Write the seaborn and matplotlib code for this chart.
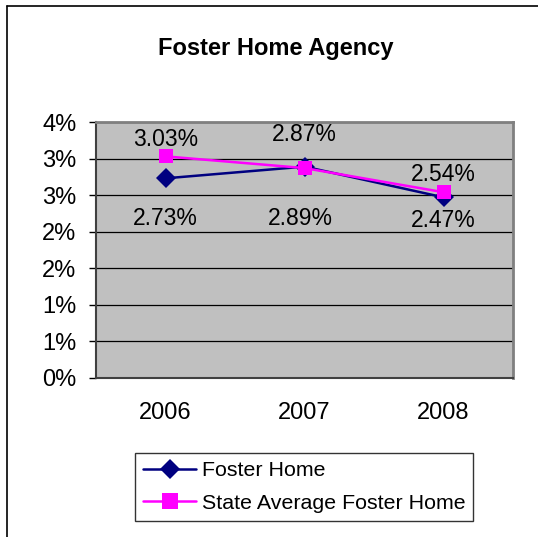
import numpy as np
import pandas as pd
import matplotlib
matplotlib.use("Agg")
import matplotlib.pyplot as plt
from matplotlib.lines import Line2D
from matplotlib.ticker import FuncFormatter, FixedLocator
import seaborn as sns

# data
YEARS = ["2006", "2007", "2008"]
FOSTER_HOME = [2.73, 2.89, 2.47]
STATE_AVG = [3.03, 2.87, 2.54]
SERIES = ["Foster Home", "State Average Foster Home"]
Y_TICKS = [0, 0.5, 1.0, 1.5, 2.0, 2.5, 3.0, 3.5]

df = pd.DataFrame({
    "year": YEARS * 2,
    "value": FOSTER_HOME + STATE_AVG,
    "series": [SERIES[0]] * 3 + [SERIES[1]] * 3,
})

sns.set_style("white")
plt.rcParams["font.family"] = ["Liberation Sans", "DejaVu Sans"]
plt.rcParams["text.color"] = "black"
plt.rcParams["xtick.color"] = "black"
plt.rcParams["ytick.color"] = "black"

fig = plt.figure(figsize=(5.38, 5.37), dpi=100)
ax = fig.add_axes([96 / 538, 1 - 378 / 537, (513 - 96) / 538, (378 - 122) / 537])
ax.set_facecolor("#C0C0C0")

palette = {SERIES[0]: "#000080", SERIES[1]: "#FF00FF"}
markers = {SERIES[0]: "D", SERIES[1]: "s"}
sns.lineplot(data=df, x="year", y="value", hue="series", style="series",
             palette=palette, markers=markers, dashes=False, markersize=10,
             markeredgewidth=0, linewidth=1.8, ax=ax, sort=False)

ax.set_xlim(-0.5, 2.5)
ax.set_ylim(0, 3.5)
ax.yaxis.set_major_locator(FixedLocator(Y_TICKS))
ax.yaxis.set_major_formatter(FuncFormatter(lambda v, p: f"{int(np.floor(v + 0.5 + 1e-9))}%"))
ax.grid(axis="y", color="#000000", linewidth=0.9)
ax.set_axisbelow(True)

ax.set_xticks([0, 1, 2])
ax.set_xticks([-0.5, 0.5, 1.5, 2.5], minor=True)
ax.tick_params(axis="x", which="major", length=0, pad=17, labelsize=17)
ax.tick_params(axis="x", which="minor", length=5, width=1, color="#000000", direction="out")
ax.tick_params(axis="y", which="major", length=5, width=1, color="#000000", direction="out",
               pad=9, labelsize=17, left=True)
ax.set_xlabel("")
ax.set_ylabel("")

for s in ["top", "right"]:
    ax.spines[s].set_color("#808080")
    ax.spines[s].set_linewidth(2)
for s in ["left", "bottom"]:
    ax.spines[s].set_color("#404040")
    ax.spines[s].set_linewidth(1.5)

# data labels
foster_offsets = [(0, -29), (-3, -37), (0, -17)]
state_offsets = [(0, 12), (0, 24), (0, 13)]
for i, yr in enumerate(YEARS):
    ax.annotate(f"{FOSTER_HOME[i]:.2f}%", (i, FOSTER_HOME[i]), xytext=foster_offsets[i],
                textcoords="offset points", ha="center", va="center", fontsize=16.5)
    ax.annotate(f"{STATE_AVG[i]:.2f}%", (i, STATE_AVG[i]), xytext=state_offsets[i],
                textcoords="offset points", ha="center", va="center", fontsize=16.5)

fig.text(276 / 538, 1 - 48 / 537, "Foster Home Agency", ha="center", va="center",
         fontsize=17, fontweight="bold")

ax.get_legend().remove()
handles = [
    Line2D([], [], color="#000080", marker="D", markersize=10, markeredgewidth=0, linewidth=1.8),
    Line2D([], [], color="#FF00FF", marker="s", markersize=11, markeredgewidth=0, linewidth=1.8),
]
leg = fig.legend(handles, SERIES, loc="center", bbox_to_anchor=(304 / 538, 1 - 487 / 537),
                 frameon=True, fancybox=False, fontsize=15.4, handlelength=2.5,
                 handletextpad=0.25, borderpad=0.37, labelspacing=0.64, borderaxespad=0)
leg.get_frame().set_edgecolor("#000000")
leg.get_frame().set_linewidth(1)

# chart area border (left and top edges visible)
fig.add_artist(Line2D([7 / 538, 7 / 538], [0, 1 - 6 / 537], color="black", linewidth=1.2,
                      transform=fig.transFigure))
fig.add_artist(Line2D([7 / 538, 1], [1 - 6 / 537, 1 - 6 / 537], color="black", linewidth=1.2,
                      transform=fig.transFigure))

fig.savefig("out.png", dpi=100, facecolor="white")
